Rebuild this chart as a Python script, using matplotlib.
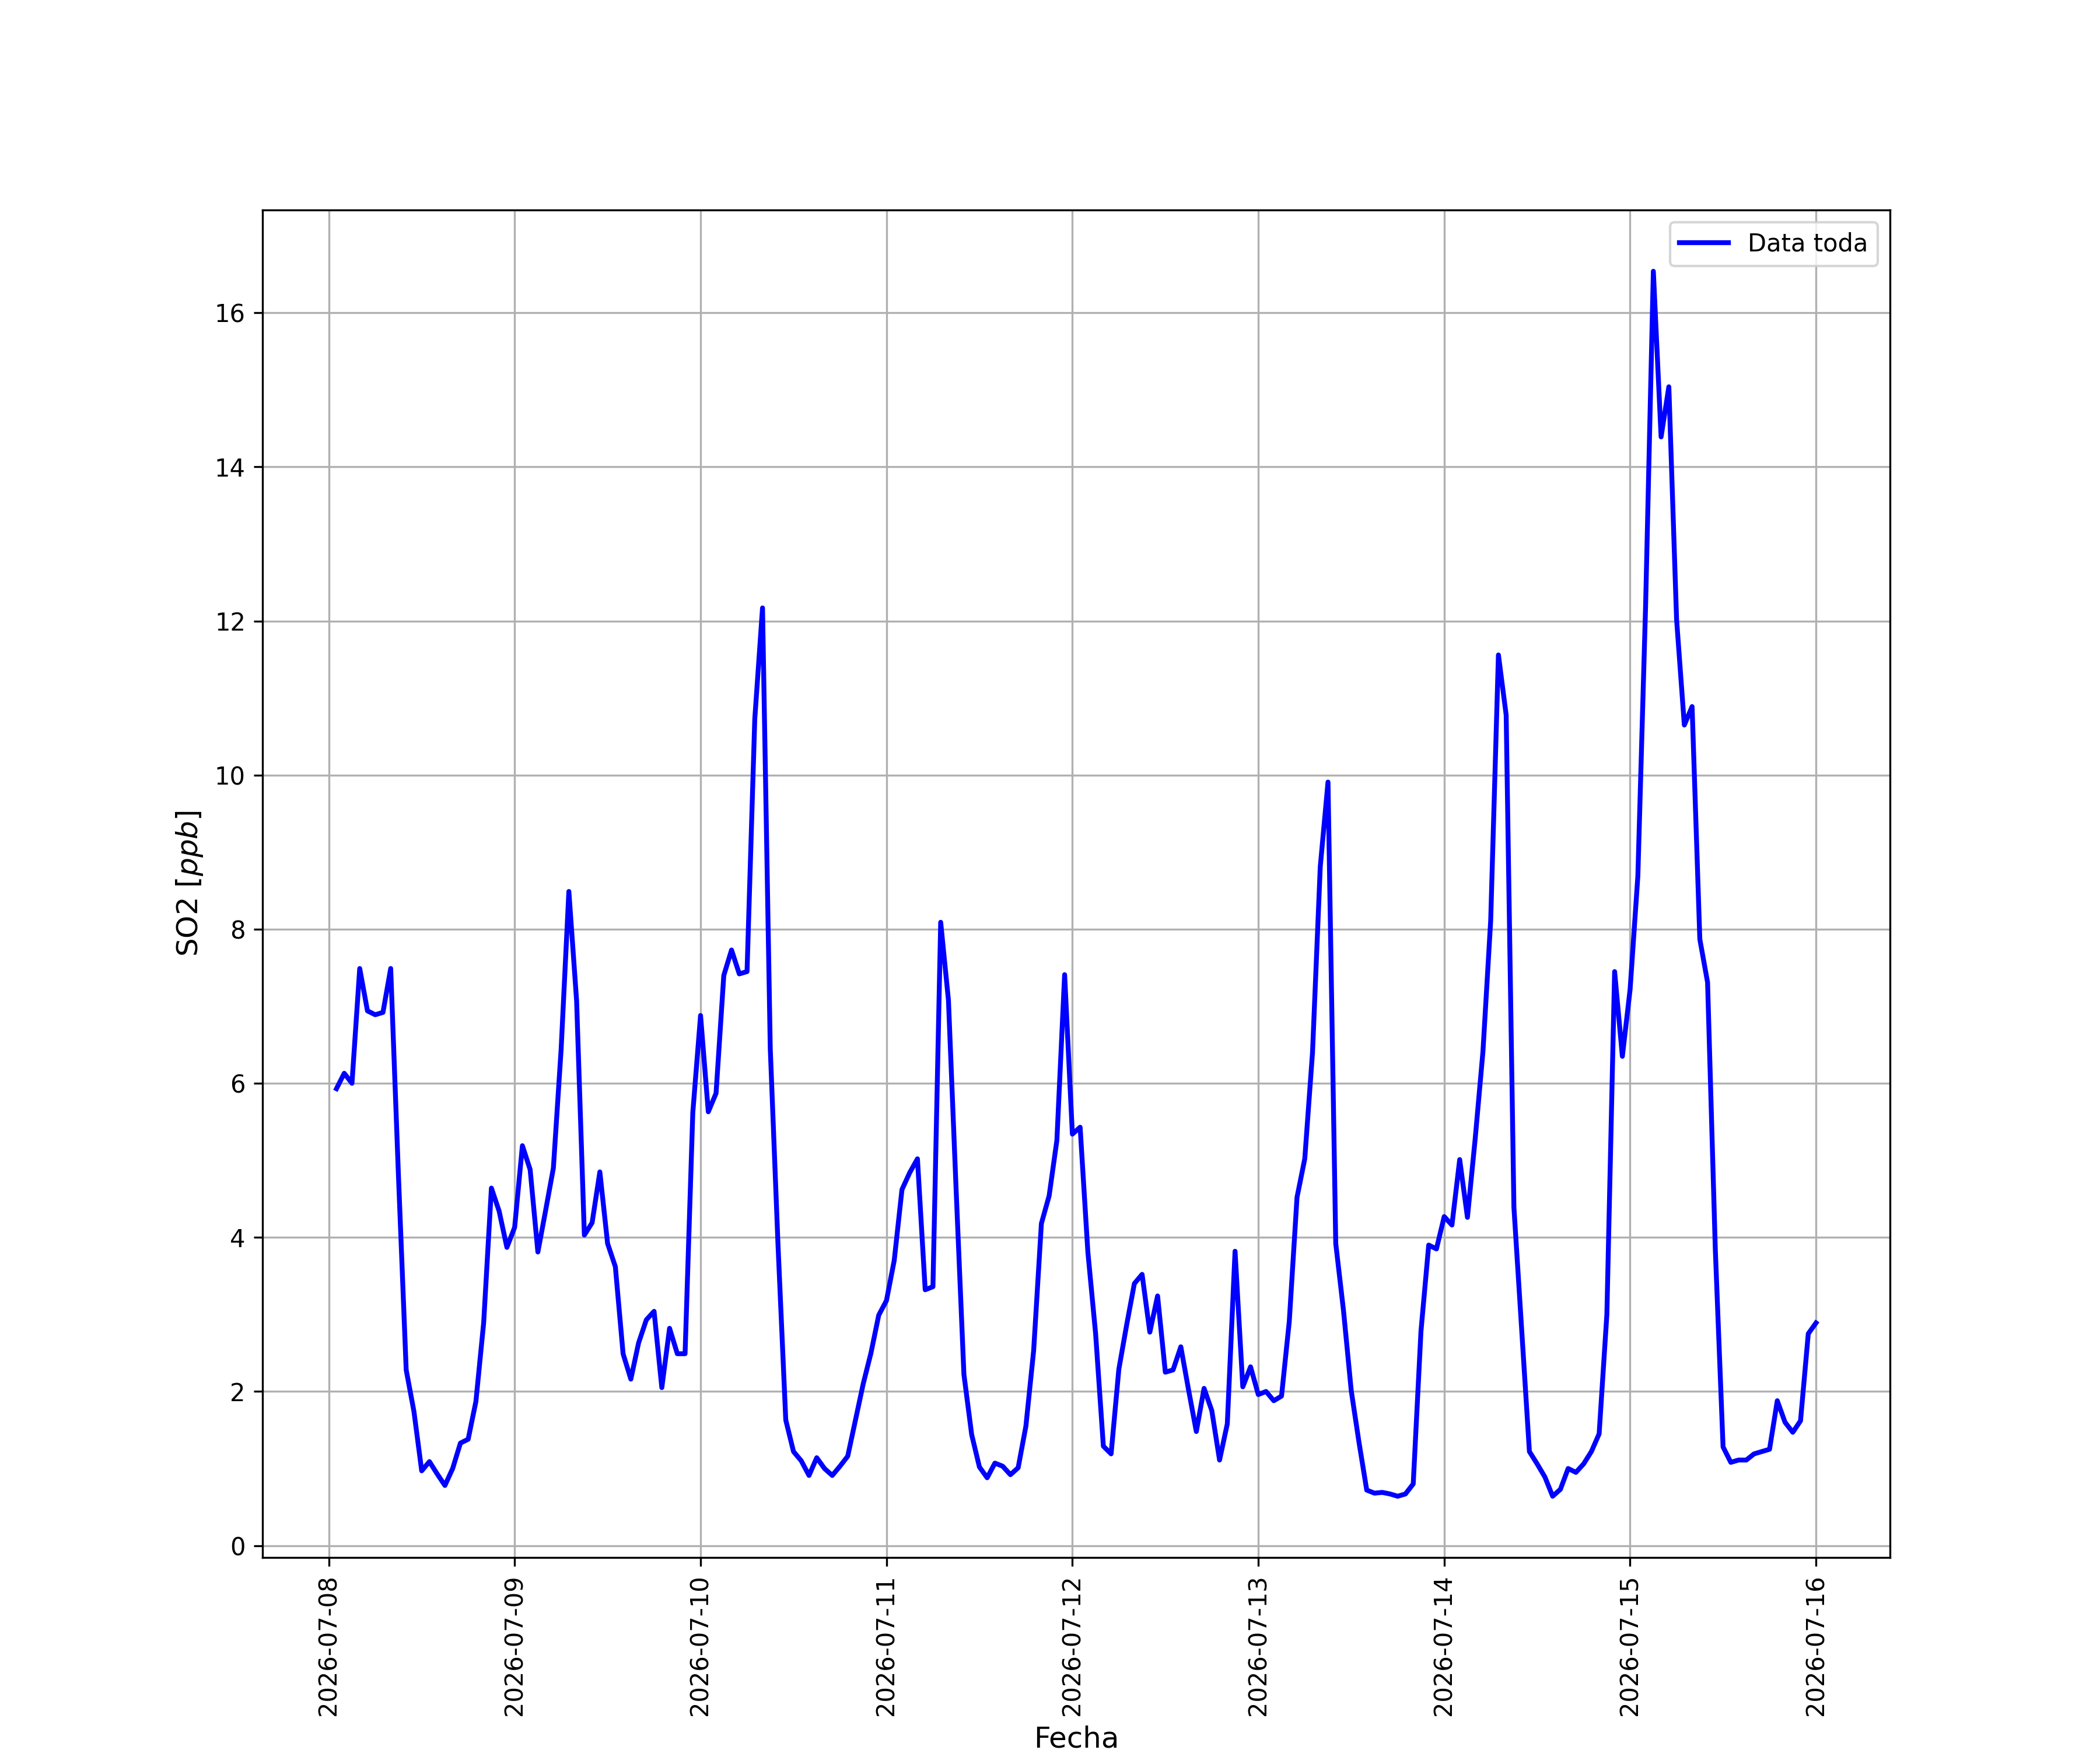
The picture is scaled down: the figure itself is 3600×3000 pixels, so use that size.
import numpy as np
import pandas as pd
import matplotlib
matplotlib.use('Agg')
import matplotlib.pyplot as plt
import matplotlib.dates as mdates

# hourly SO2 values, one list per day (07-08 starts at 01:00)
so2_0708 = [5.93, 6.13, 6.00, 7.49, 6.94, 6.89, 6.92, 7.49, 4.80, 2.28, 1.74, 0.97,
            1.09, 0.93, 0.78, 1.00, 1.33, 1.38, 1.87, 2.89, 4.64, 4.34, 3.87]
so2_0709 = [4.13, 5.19, 4.88, 3.81, 4.35, 4.90, 6.44, 8.49, 7.07, 4.03, 4.19, 4.85,
            3.92, 3.62, 2.49, 2.16, 2.63, 2.93, 3.04, 2.05, 2.82, 2.49, 2.49, 5.62]
so2_0710 = [6.88, 5.63, 5.87, 7.40, 7.73, 7.42, 7.45, 10.73, 12.17, 6.45, 3.90, 1.63,
            1.22, 1.10, 0.91, 1.14, 1.00, 0.91, 1.03, 1.16, 1.63, 2.10, 2.50, 2.99]
so2_0711 = [3.18, 3.70, 4.62, 4.84, 5.02, 3.32, 3.36, 8.09, 7.08, 4.60, 2.22, 1.44,
            1.02, 0.88, 1.07, 1.03, 0.92, 1.01, 1.55, 2.53, 4.18, 4.54, 5.26, 7.41]
so2_0712 = [5.34, 5.43, 3.81, 2.75, 1.29, 1.19, 2.29, 2.86, 3.40, 3.52, 2.77, 3.24,
            2.25, 2.28, 2.58, 2.02, 1.48, 2.04, 1.75, 1.11, 1.58, 3.82, 2.06, 2.32]
so2_0713 = [1.96, 2.00, 1.88, 1.94, 2.91, 4.52, 5.02, 6.40, 8.81, 9.91, 3.92, 3.05,
            2.01, 1.34, 0.72, 0.68, 0.69, 0.67, 0.64, 0.67, 0.80, 2.78, 3.90, 3.85]
so2_0714 = [4.27, 4.16, 5.01, 4.26, 5.28, 6.41, 8.11, 11.56, 10.78, 4.39, 2.80, 1.22,
            1.06, 0.89, 0.64, 0.73, 1.00, 0.95, 1.06, 1.22, 1.45, 3.00, 7.45, 6.35]
so2_0715 = [7.22, 8.69, 12.20, 16.54, 14.39, 15.04, 12.02, 10.65, 10.89, 7.87, 7.31, 3.84,
            1.28, 1.08, 1.11, 1.11, 1.19, 1.22, 1.25, 1.88, 1.60, 1.47, 1.62, 2.75]
so2_0716 = [2.89]

so2 = (so2_0708 + so2_0709 + so2_0710 + so2_0711 + so2_0712 + so2_0713
       + so2_0714 + so2_0715 + so2_0716)
fechas = pd.date_range('2026-07-08 01:00', periods=len(so2), freq='h')

fig, ax = plt.subplots(figsize=(12, 10))
ax.plot(fechas, so2, color='blue', linewidth=2, label='Data toda')
ax.xaxis.set_major_locator(mdates.DayLocator())
ax.xaxis.set_major_formatter(mdates.DateFormatter('%Y-%m-%d'))
plt.setp(ax.get_xticklabels(), rotation=90)
ax.set_xlabel('Fecha', fontsize=12)
ax.set_ylabel('SO2 [$ppb$]', fontsize=12)
ax.grid(True)
ax.legend(loc='upper right')
plt.savefig('out.png', dpi=300)
plt.close(fig)
